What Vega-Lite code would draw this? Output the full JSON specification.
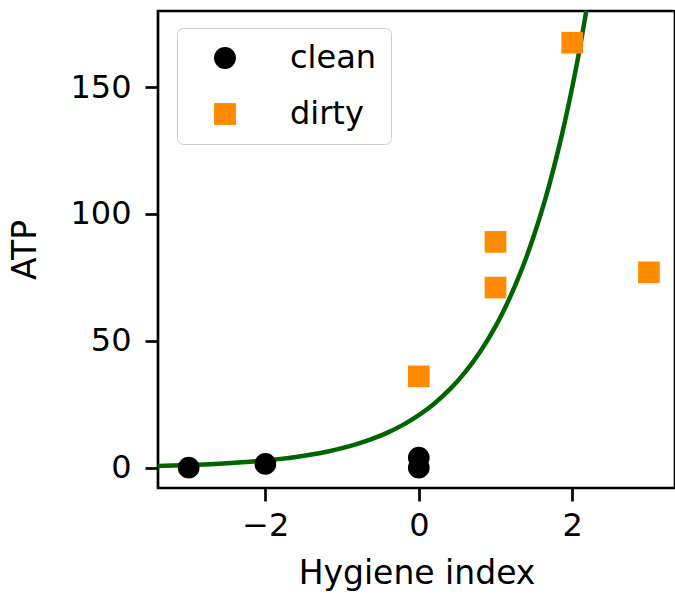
{
  "$schema": "https://vega.github.io/schema/vega-lite/v6.json",
  "autosize": {"type": "none"},
  "padding": {"left": 158, "top": 11, "right": 0, "bottom": 107},
  "width": 517,
  "height": 477,
  "background": "white",
  "config": {
    "font": "DejaVu Sans",
    "view": {"stroke": "black", "strokeWidth": 2.7},
    "axis": {
      "grid": false,
      "domain": false,
      "tickColor": "black",
      "tickWidth": 2.7,
      "tickSize": 13,
      "labelFont": "DejaVu Sans",
      "labelFontSize": 32,
      "labelColor": "black",
      "titleFont": "DejaVu Sans",
      "titleFontSize": 33,
      "titleFontWeight": "normal",
      "titleColor": "black"
    },
    "legend": {
      "labelFont": "DejaVu Sans",
      "labelFontSize": 32,
      "labelColor": "black"
    }
  },
  "datasets": {
    "pts": [
      {"hygiene": -3, "atp": 0, "group": "clean"},
      {"hygiene": -2, "atp": 1.5, "group": "clean"},
      {"hygiene": 0, "atp": 0, "group": "clean"},
      {"hygiene": 0, "atp": 4, "group": "clean"},
      {"hygiene": 0, "atp": 36, "group": "dirty"},
      {"hygiene": 1, "atp": 89, "group": "dirty"},
      {"hygiene": 1, "atp": 71, "group": "dirty"},
      {"hygiene": 2, "atp": 167.5, "group": "dirty"},
      {"hygiene": 3, "atp": 77, "group": "dirty"}
    ],
    "fit": [
      {"x": -3.4, "y": 0.715},
      {"x": -3.2, "y": 0.871},
      {"x": -3.0, "y": 1.062},
      {"x": -2.8, "y": 1.294},
      {"x": -2.6, "y": 1.578},
      {"x": -2.4, "y": 1.923},
      {"x": -2.2, "y": 2.345},
      {"x": -2.0, "y": 2.858},
      {"x": -1.8, "y": 3.483},
      {"x": -1.6, "y": 4.246},
      {"x": -1.4, "y": 5.176},
      {"x": -1.2, "y": 6.310},
      {"x": -1.0, "y": 7.692},
      {"x": -0.8, "y": 9.376},
      {"x": -0.6, "y": 11.43},
      {"x": -0.4, "y": 13.93},
      {"x": -0.2, "y": 16.98},
      {"x": 0.0, "y": 20.7},
      {"x": 0.2, "y": 25.23},
      {"x": 0.4, "y": 30.76},
      {"x": 0.6, "y": 37.49},
      {"x": 0.8, "y": 45.70},
      {"x": 1.0, "y": 55.71},
      {"x": 1.1, "y": 61.51},
      {"x": 1.2, "y": 67.91},
      {"x": 1.3, "y": 74.98},
      {"x": 1.4, "y": 82.78},
      {"x": 1.5, "y": 91.39},
      {"x": 1.6, "y": 100.9},
      {"x": 1.7, "y": 111.4},
      {"x": 1.8, "y": 123.0},
      {"x": 1.9, "y": 135.8},
      {"x": 2.0, "y": 149.9},
      {"x": 2.1, "y": 165.5},
      {"x": 2.2, "y": 182.8},
      {"x": 2.3, "y": 201.8},
      {"x": 2.4, "y": 222.8}
    ]
  },
  "layer": [
    {
      "data": {"name": "fit"},
      "mark": {"type": "line", "color": "#006400", "strokeWidth": 4.5, "clip": true, "interpolate": "monotone"},
      "encoding": {
        "x": {"field": "x", "type": "quantitative", "scale": {"domain": [-3.4, 3.34], "nice": false, "zero": false},
          "axis": {"values": [-2, 0, 2], "format": "d", "title": "Hygiene index", "labelPadding": 9, "titlePadding": 16}},
        "y": {"field": "y", "type": "quantitative", "scale": {"domain": [-8, 180], "nice": false, "zero": false},
          "axis": {"values": [0, 50, 100, 150], "format": "d", "title": "ATP", "labelPadding": 14, "titlePadding": 27}}
      }
    },
    {
      "data": {"name": "pts"},
      "mark": {"type": "point", "filled": true, "opacity": 1, "size": 470, "strokeWidth": 0},
      "encoding": {
        "x": {"field": "hygiene", "type": "quantitative"},
        "y": {"field": "atp", "type": "quantitative"},
        "color": {"field": "group", "type": "nominal",
          "scale": {"domain": ["clean", "dirty"], "range": ["#000000", "#ff8c00"]},
          "legend": {
            "title": null,
            "orient": "none",
            "legendX": 19,
            "legendY": 17,
            "padding": 14,
            "strokeColor": "#cccccc",
            "fillColor": "rgba(255,255,255,0.8)",
            "cornerRadius": 6,
            "symbolSize": 480,
            "symbolStrokeWidth": 0,
            "symbolOffset": 18,
            "labelOffset": 49,
            "rowPadding": 24
          }},
        "shape": {"field": "group", "type": "nominal",
          "scale": {"domain": ["clean", "dirty"], "range": ["circle", "square"]}}
      }
    }
  ]
}
